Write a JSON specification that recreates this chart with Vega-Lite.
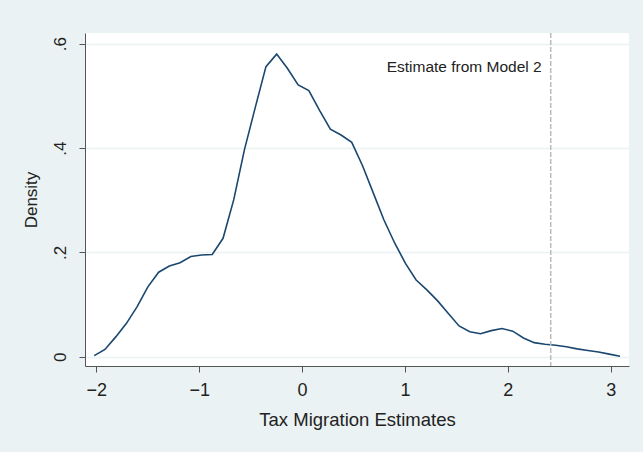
{
  "$schema": "https://vega.github.io/schema/vega-lite/v6.json",
  "width": 544,
  "height": 333,
  "autosize": {"type": "none"},
  "padding": {"left": 85, "top": 33, "right": 14, "bottom": 86},
  "background": "#EAF2F3",
  "config": {
    "view": {"fill": "white", "stroke": null},
    "font": "Liberation Sans",
    "axis": {
      "domainColor": "#555555",
      "tickColor": "#555555",
      "tickSize": 6,
      "labelColor": "#222222",
      "titleColor": "#222222",
      "labelFont": "Liberation Sans",
      "titleFont": "Liberation Sans",
      "titleFontWeight": "normal"
    }
  },
  "datasets": {
    "density": [
      {"x": -2.020, "d": 0.002}, {"x": -1.916, "d": 0.014}, {"x": -1.811, "d": 0.038},
      {"x": -1.707, "d": 0.064}, {"x": -1.603, "d": 0.096}, {"x": -1.499, "d": 0.134},
      {"x": -1.394, "d": 0.162}, {"x": -1.290, "d": 0.174}, {"x": -1.186, "d": 0.180},
      {"x": -1.081, "d": 0.192}, {"x": -0.977, "d": 0.195}, {"x": -0.873, "d": 0.196},
      {"x": -0.768, "d": 0.227}, {"x": -0.664, "d": 0.301}, {"x": -0.560, "d": 0.397},
      {"x": -0.456, "d": 0.477}, {"x": -0.351, "d": 0.556}, {"x": -0.247, "d": 0.580},
      {"x": -0.143, "d": 0.553}, {"x": -0.038, "d": 0.521}, {"x": 0.066, "d": 0.510},
      {"x": 0.170, "d": 0.472}, {"x": 0.275, "d": 0.436}, {"x": 0.379, "d": 0.425},
      {"x": 0.483, "d": 0.411}, {"x": 0.588, "d": 0.366}, {"x": 0.692, "d": 0.314},
      {"x": 0.796, "d": 0.262}, {"x": 0.900, "d": 0.218}, {"x": 1.005, "d": 0.179},
      {"x": 1.109, "d": 0.147}, {"x": 1.213, "d": 0.128}, {"x": 1.318, "d": 0.107},
      {"x": 1.422, "d": 0.083}, {"x": 1.526, "d": 0.059}, {"x": 1.631, "d": 0.048},
      {"x": 1.735, "d": 0.044}, {"x": 1.839, "d": 0.050}, {"x": 1.943, "d": 0.054},
      {"x": 2.048, "d": 0.049}, {"x": 2.152, "d": 0.036}, {"x": 2.256, "d": 0.027},
      {"x": 2.361, "d": 0.024}, {"x": 2.465, "d": 0.022}, {"x": 2.569, "d": 0.019},
      {"x": 2.674, "d": 0.015}, {"x": 2.778, "d": 0.012}, {"x": 2.882, "d": 0.009},
      {"x": 2.986, "d": 0.005}, {"x": 3.091, "d": 0.001}
    ],
    "estimate": [{"x": 2.417, "label": "Estimate from Model 2"}]
  },
  "layer": [
    {
      "data": {"name": "density"},
      "mark": {"type": "line", "color": "#1A476F", "strokeWidth": 1.6},
      "encoding": {
        "x": {
          "field": "x", "type": "quantitative",
          "scale": {"domain": [-2.11, 3.178], "nice": false, "zero": false},
          "axis": {
            "values": [-2, -1, 0, 1, 2, 3],
            "grid": false,
            "format": "d",
            "labelFontSize": 18,
            "labelPadding": 9,
            "title": "Tax Migration Estimates",
            "titleFontSize": 18.5,
            "titlePadding": 11
          }
        },
        "y": {
          "field": "d", "type": "quantitative",
          "scale": {"domain": [-0.0178, 0.6205], "nice": false, "zero": false},
          "axis": {
            "values": [0, 0.2, 0.4, 0.6],
            "grid": true,
            "gridColor": "#EAF2F3",
            "gridWidth": 1.5,
            "labelExpr": "datum.value == 0 ? '0' : replace(format(datum.value, '.1f'), '0.', '.')",
            "labelAngle": -90,
            "labelAlign": "center",
            "labelBaseline": "bottom",
            "labelFontSize": 17,
            "labelPadding": 10,
            "title": "Density",
            "titleFontSize": 17,
            "titlePadding": 11
          }
        }
      }
    },
    {
      "data": {"name": "estimate"},
      "mark": {"type": "rule", "color": "#BBBBBB", "strokeDash": [5, 2], "strokeWidth": 1.5},
      "encoding": {"x": {"field": "x", "type": "quantitative"}}
    },
    {
      "data": {"name": "estimate"},
      "mark": {"type": "text", "align": "right", "baseline": "middle", "dx": -9, "fontSize": 15.5, "color": "#222222", "font": "Liberation Sans"},
      "encoding": {
        "x": {"field": "x", "type": "quantitative"},
        "y": {"datum": 0.555},
        "text": {"field": "label"}
      }
    }
  ]
}
